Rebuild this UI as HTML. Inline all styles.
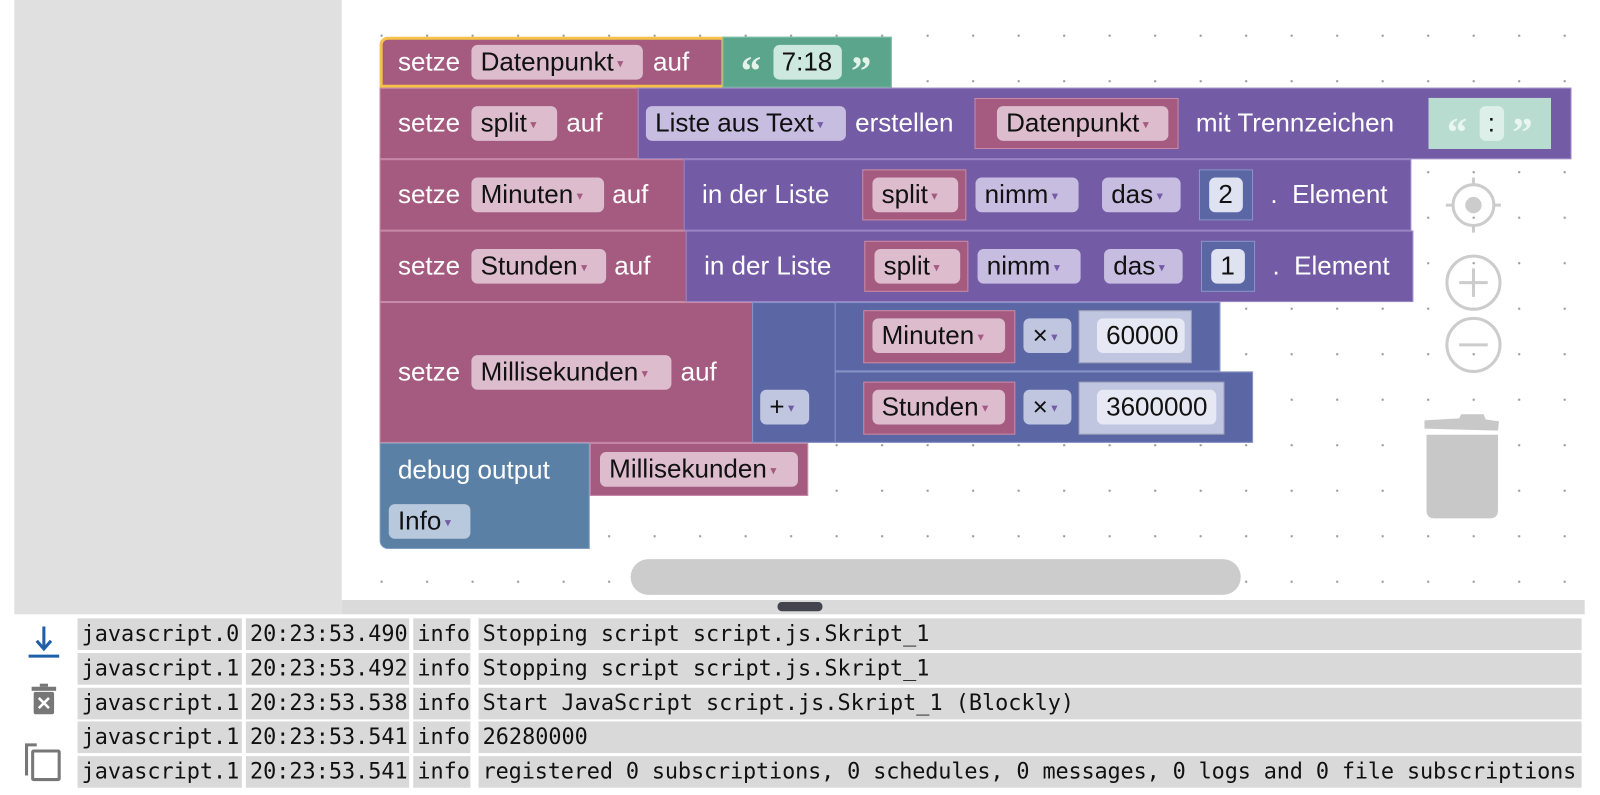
<!DOCTYPE html>
<html><head><meta charset="utf-8"><style>
*{margin:0;padding:0;box-sizing:border-box}
body{width:1600px;height:795px;overflow:hidden;background:#fff;font-family:"Liberation Sans",sans-serif}
#w{position:absolute;left:0;top:0;width:1568px;height:779px;transform:scale(1.0204);transform-origin:0 0}
.a{position:absolute}
.b{position:absolute;border:1px solid rgba(0,0,0,.18)}
.r{background:#a55b80;border-color:#c98aa8}
.p{background:#745ba5;border-color:#9a86c4}
.m{background:#5b67a5;border-color:#8a94c8}
.t{position:absolute;color:#fff;font-size:25.5px;line-height:28px;white-space:nowrap}
.f{position:absolute;height:34px;border-radius:6px;color:#111;font-size:25.5px;line-height:34px;padding-left:9px;white-space:nowrap}
.fr{background:#dcbccd}.fp{background:#c7bde0}.fm{background:#c0c5e0}.fd{background:#b9c9dd}
.dd::after{content:" ▾";font-size:12px;color:#a55b80;vertical-align:middle}
.fp.dd::after,.fm.dd::after,.fd.dd::after{color:#745ba5}
.q{position:absolute;font-family:"Liberation Serif",serif;font-weight:bold;font-size:40px;line-height:40px}
.log{position:absolute;left:76px;font-family:"DejaVu Sans Mono",monospace;font-size:21.4px;line-height:31px;height:31px}
.log span{position:absolute;top:0;height:31px;background:#d9d9d9;padding-left:4px;color:#111;white-space:nowrap;overflow:hidden}
</style></head><body><div id="w">
<div class="a" style="left:14px;top:0;width:321px;height:602px;background:#e0e0e0"></div>
<div class="a" style="left:335px;top:0;width:1218px;height:588px;background:#fff;background-image:radial-gradient(circle,#999 1px,transparent 1.3px);background-size:44.6px 44.6px;background-position:16.7px 12.7px"></div>
<div class="a" style="left:335px;top:588px;width:1218px;height:14px;background:#dadada"></div>
<div class="a" style="left:762px;top:590px;width:44px;height:9px;background:#44444f;border-radius:4px"></div>
<div class="a" style="left:618px;top:548px;width:598px;height:35px;background:#ccc;border-radius:18px"></div>

<div class="b r" style="left:372px;top:36px;width:338px;height:50px;border:3px solid #f5c14b;border-radius:8px 0 0 0"></div>
<div class="t" style="left:390px;top:47px">setze</div>
<div class="f fr dd" style="left:462px;top:44px;width:168px">Datenpunkt</div>
<div class="t" style="left:640px;top:47px">auf</div>
<div class="b" style="left:708px;top:36px;width:166px;height:50px;background:#5ba58c;border-color:#7fc0a8"></div>
<div class="q" style="left:726px;top:50px;color:#e4f2ec">“</div>
<div class="f" style="left:758px;top:44px;width:67px;background:#cde8de;padding-left:8px">7:18</div>
<div class="q" style="left:834px;top:50px;color:#e4f2ec">”</div>

<div class="b r" style="left:372px;top:86px;width:254px;height:70px"></div>
<div class="t" style="left:390px;top:107px">setze</div>
<div class="f fr dd" style="left:462px;top:104px;width:84px">split</div>
<div class="t" style="left:555px;top:107px">auf</div>
<div class="b p" style="left:625px;top:86px;width:915px;height:70px"></div>
<div class="f fp dd" style="left:633px;top:104px;width:196px">Liste aus Text</div>
<div class="t" style="left:838px;top:107px">erstellen</div>
<div class="b r" style="left:955px;top:96px;width:200px;height:50px"></div>
<div class="f fr dd" style="left:977px;top:104px;width:168px">Datenpunkt</div>
<div class="t" style="left:1172px;top:107px">mit Trennzeichen</div>
<div class="b" style="left:1400px;top:96px;width:120px;height:50px;background:#b9dcd1;border-color:#b9dcd1"></div>
<div class="q" style="left:1418px;top:110px;color:#e9f5f0">“</div>
<div class="f" style="left:1450px;top:104px;width:24px;background:#dcefe8;padding-left:8px">:</div>
<div class="q" style="left:1482px;top:110px;color:#e9f5f0">”</div>

<div class="b r" style="left:372px;top:156px;width:300px;height:70px"></div>
<div class="t" style="left:390px;top:177px">setze</div>
<div class="f fr dd" style="left:462px;top:174px;width:130px">Minuten</div>
<div class="t" style="left:600px;top:177px">auf</div>
<div class="b p" style="left:670px;top:156px;width:713px;height:70px"></div>
<div class="t" style="left:688px;top:177px">in der Liste</div>
<div class="b r" style="left:845px;top:166px;width:102px;height:50px"></div>
<div class="f fr dd" style="left:855px;top:174px;width:84px">split</div>
<div class="f fp dd" style="left:956px;top:174px;width:101px">nimm</div>
<div class="f fp dd" style="left:1080px;top:174px;width:77px">das</div>
<div class="b m" style="left:1175px;top:166px;width:53px;height:50px"></div>
<div class="f" style="left:1185px;top:174px;width:33px;background:#dfe2f0">2</div>
<div class="t" style="left:1245px;top:177px">.&nbsp; Element</div>

<div class="b r" style="left:372px;top:226px;width:302px;height:70px"></div>
<div class="t" style="left:390px;top:247px">setze</div>
<div class="f fr dd" style="left:462px;top:244px;width:132px">Stunden</div>
<div class="t" style="left:602px;top:247px">auf</div>
<div class="b p" style="left:672px;top:226px;width:713px;height:70px"></div>
<div class="t" style="left:690px;top:247px">in der Liste</div>
<div class="b r" style="left:847px;top:236px;width:102px;height:50px"></div>
<div class="f fr dd" style="left:857px;top:244px;width:84px">split</div>
<div class="f fp dd" style="left:958px;top:244px;width:101px">nimm</div>
<div class="f fp dd" style="left:1082px;top:244px;width:77px">das</div>
<div class="b m" style="left:1177px;top:236px;width:53px;height:50px"></div>
<div class="f" style="left:1187px;top:244px;width:33px;background:#dfe2f0">1</div>
<div class="t" style="left:1247px;top:247px">.&nbsp; Element</div>

<div class="b r" style="left:372px;top:296px;width:366px;height:138px"></div>
<div class="t" style="left:390px;top:351px">setze</div>
<div class="f fr dd" style="left:462px;top:348px;width:196px">Millisekunden</div>
<div class="t" style="left:667px;top:351px">auf</div>
<div class="b m" style="left:737px;top:296px;width:82px;height:138px"></div>
<div class="f fm dd" style="left:745px;top:382px;width:48px">+</div>
<div class="b m" style="left:818px;top:296px;width:378px;height:68px"></div>
<div class="b r" style="left:846px;top:304px;width:149px;height:52px"></div>
<div class="f fr dd" style="left:855px;top:312px;width:130px">Minuten</div>
<div class="f fm dd" style="left:1003px;top:312px;width:47px">×</div>
<div class="b" style="left:1057px;top:304px;width:111px;height:52px;background:#c0c5e0"></div>
<div class="f" style="left:1075px;top:312px;width:86px;background:#e6e8f3">60000</div>
<div class="b m" style="left:818px;top:364px;width:410px;height:70px"></div>
<div class="b r" style="left:846px;top:374px;width:149px;height:52px"></div>
<div class="f fr dd" style="left:855px;top:382px;width:130px">Stunden</div>
<div class="f fm dd" style="left:1003px;top:382px;width:47px">×</div>
<div class="b" style="left:1057px;top:374px;width:143px;height:52px;background:#c0c5e0"></div>
<div class="f" style="left:1075px;top:382px;width:117px;background:#e6e8f3">3600000</div>

<div class="b" style="left:372px;top:434px;width:206px;height:104px;background:#5b80a5;border-color:#7f9ec0;border-radius:0 0 0 8px"></div>
<div class="t" style="left:390px;top:447px">debug output</div>
<div class="b r" style="left:578px;top:434px;width:214px;height:52px"></div>
<div class="f fr dd" style="left:588px;top:443px;width:194px">Millisekunden</div>
<div class="f fd dd" style="left:381px;top:494px;width:80px">Info</div>

<svg class="a" style="left:1390px;top:170px" width="100" height="350" viewBox="0 0 100 350">
<g stroke="#ccc" stroke-width="3" fill="none">
<circle cx="54" cy="31" r="20"/><line x1="54" y1="4" x2="54" y2="11"/><line x1="54" y1="51" x2="54" y2="58"/><line x1="27" y1="31" x2="34" y2="31"/><line x1="74" y1="31" x2="81" y2="31"/>
<circle cx="54" cy="107" r="26"/><line x1="40" y1="107" x2="68" y2="107"/><line x1="54" y1="93" x2="54" y2="121"/>
<circle cx="54" cy="168" r="26"/><line x1="40" y1="168" x2="68" y2="168"/>
</g>
<circle cx="54" cy="31" r="8" fill="#ccc"/>
<path d="M6 242 L40 240 L42 236 L64 236 L66 241 L79 243 L78 252 L6 250 Z" fill="#c8c8c8"/>
<path d="M8 256 L78 256 L78 330 Q78 338 70 338 L16 338 Q8 338 8 330 Z" fill="#c8c8c8"/>
</svg>

<svg class="a" style="left:22px;top:612px" width="44" height="160" viewBox="0 0 44 160">
<g stroke="#1e5fa8" stroke-width="3"><line x1="21" y1="2" x2="21" y2="22"/><line x1="6" y1="31" x2="36" y2="31"/></g>
<path d="M14 16 L21 24 L28 16" stroke="#1e5fa8" stroke-width="3" fill="none"/>
<rect x="11" y="66" width="20" height="22" rx="2" fill="#777"/><rect x="9" y="61" width="24" height="4" fill="#777"/><rect x="17" y="58" width="8" height="3" fill="#777"/>
<path d="M16 72 L26 82 M26 72 L16 82" stroke="#fff" stroke-width="2.5"/>
<path d="M14 118 L4 118 L4 148" stroke="#777" stroke-width="3" fill="none"/>
<rect x="10" y="124" width="26" height="28" stroke="#777" stroke-width="3" fill="none" rx="1"/>
</svg>
<div class="log" style="top:606px"><span style="left:0;width:161px">javascript.0</span><span style="left:165px;width:160px">20:23:53.490</span><span style="left:329px;width:56px">info</span><span style="left:393px;width:1081px">Stopping script script.js.Skript_1</span></div>
<div class="log" style="top:640px"><span style="left:0;width:161px">javascript.1</span><span style="left:165px;width:160px">20:23:53.492</span><span style="left:329px;width:56px">info</span><span style="left:393px;width:1081px">Stopping script script.js.Skript_1</span></div>
<div class="log" style="top:674px"><span style="left:0;width:161px">javascript.1</span><span style="left:165px;width:160px">20:23:53.538</span><span style="left:329px;width:56px">info</span><span style="left:393px;width:1081px">Start JavaScript script.js.Skript_1 (Blockly)</span></div>
<div class="log" style="top:707px"><span style="left:0;width:161px">javascript.1</span><span style="left:165px;width:160px">20:23:53.541</span><span style="left:329px;width:56px">info</span><span style="left:393px;width:1081px">26280000</span></div>
<div class="log" style="top:741px"><span style="left:0;width:161px">javascript.1</span><span style="left:165px;width:160px">20:23:53.541</span><span style="left:329px;width:56px">info</span><span style="left:393px;width:1081px;letter-spacing:-0.12px">registered 0 subscriptions, 0 schedules, 0 messages, 0 logs and 0 file subscriptions</span></div>
</div></body></html>
